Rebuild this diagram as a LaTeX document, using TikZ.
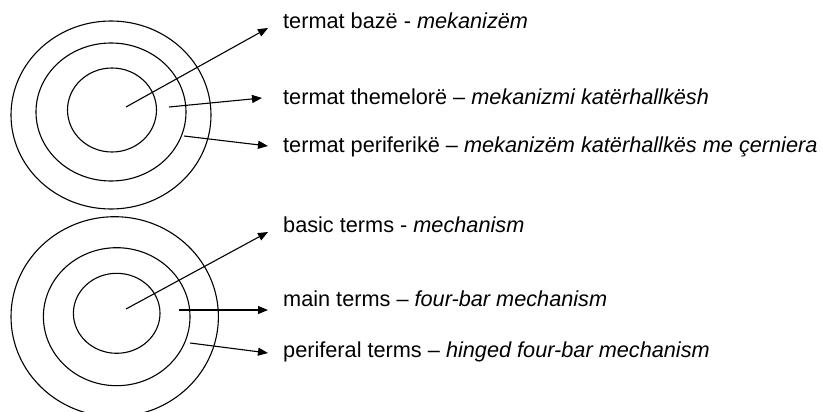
\documentclass[tikz,border=0pt]{standalone}
\usepackage{fontspec}
\setmainfont{Liberation Sans}
\usetikzlibrary{arrows.meta}
\begin{document}
\begin{tikzpicture}[x=1pt,y=-1pt,
  ring/.style={draw=black, line width=1.1pt},
  arr/.style={draw=black, line width=1.1pt, -{Triangle[length=10pt,width=8pt]}},
  lbl/.style={anchor=base west, inner sep=0pt, font=\fontsize{21.7}{26}\selectfont}]
\useasboundingbox (0,0) rectangle (823,412);
\clip (0,0) rectangle (823,412);
% top group
\draw[ring] (111,115) ellipse [x radius=100, y radius=94];
\draw[ring] (111,112) ellipse [x radius=75, y radius=69];
\draw[ring] (112,110) ellipse [x radius=44.5, y radius=42];
% bottom group
\draw[ring] (114.7,316.7) ellipse [x radius=103.7, y radius=100];
\draw[ring] (116.7,316.7) ellipse [x radius=73.3, y radius=69];
\draw[ring] (116.7,313.3) ellipse [x radius=43.3, y radius=40];
% labels
\node[lbl] (a1) at (283,28.5) {termat bazë - \textit{mekanizëm}};
\node[lbl] (a2) at (283,105) {termat themelorë – \textit{mekanizmi katërhallkësh}};
\node[lbl] (a3) at (283,153) {termat periferikë – \textit{mekanizëm katërhallkës me çerniera}};
\node[lbl] (b1) at (283,232) {basic terms - \textit{mechanism}};
\node[lbl] (b2) at (283,306) {main terms – \textit{four-bar mechanism}};
\node[lbl] (b3) at (283,357) {periferal terms – \textit{hinged four-bar mechanism}};
% arrow ends
\coordinate (a1s) at (126,107); \coordinate (a1e) at (268,28);
\coordinate (a2s) at (169,107); \coordinate (a2e) at (262,98);
\coordinate (a3s) at (184,136); \coordinate (a3e) at (268,146);
\coordinate (b1s) at (126,309); \coordinate (b1e) at (268,232);
\coordinate (b2s) at (179,310); \coordinate (b2e) at (268,310);
\coordinate (b3s) at (190,343); \coordinate (b3e) at (268,353);
\draw[arr] (a1s) -- (a1e);
\draw[arr] (a2s) -- (a2e);
\draw[arr] (a3s) -- (a3e);
\draw[arr] (b1s) -- (b1e);
\draw[arr] (b2s) -- (b2e);
\draw[arr] (b3s) -- (b3e);
\end{tikzpicture}
\end{document}
